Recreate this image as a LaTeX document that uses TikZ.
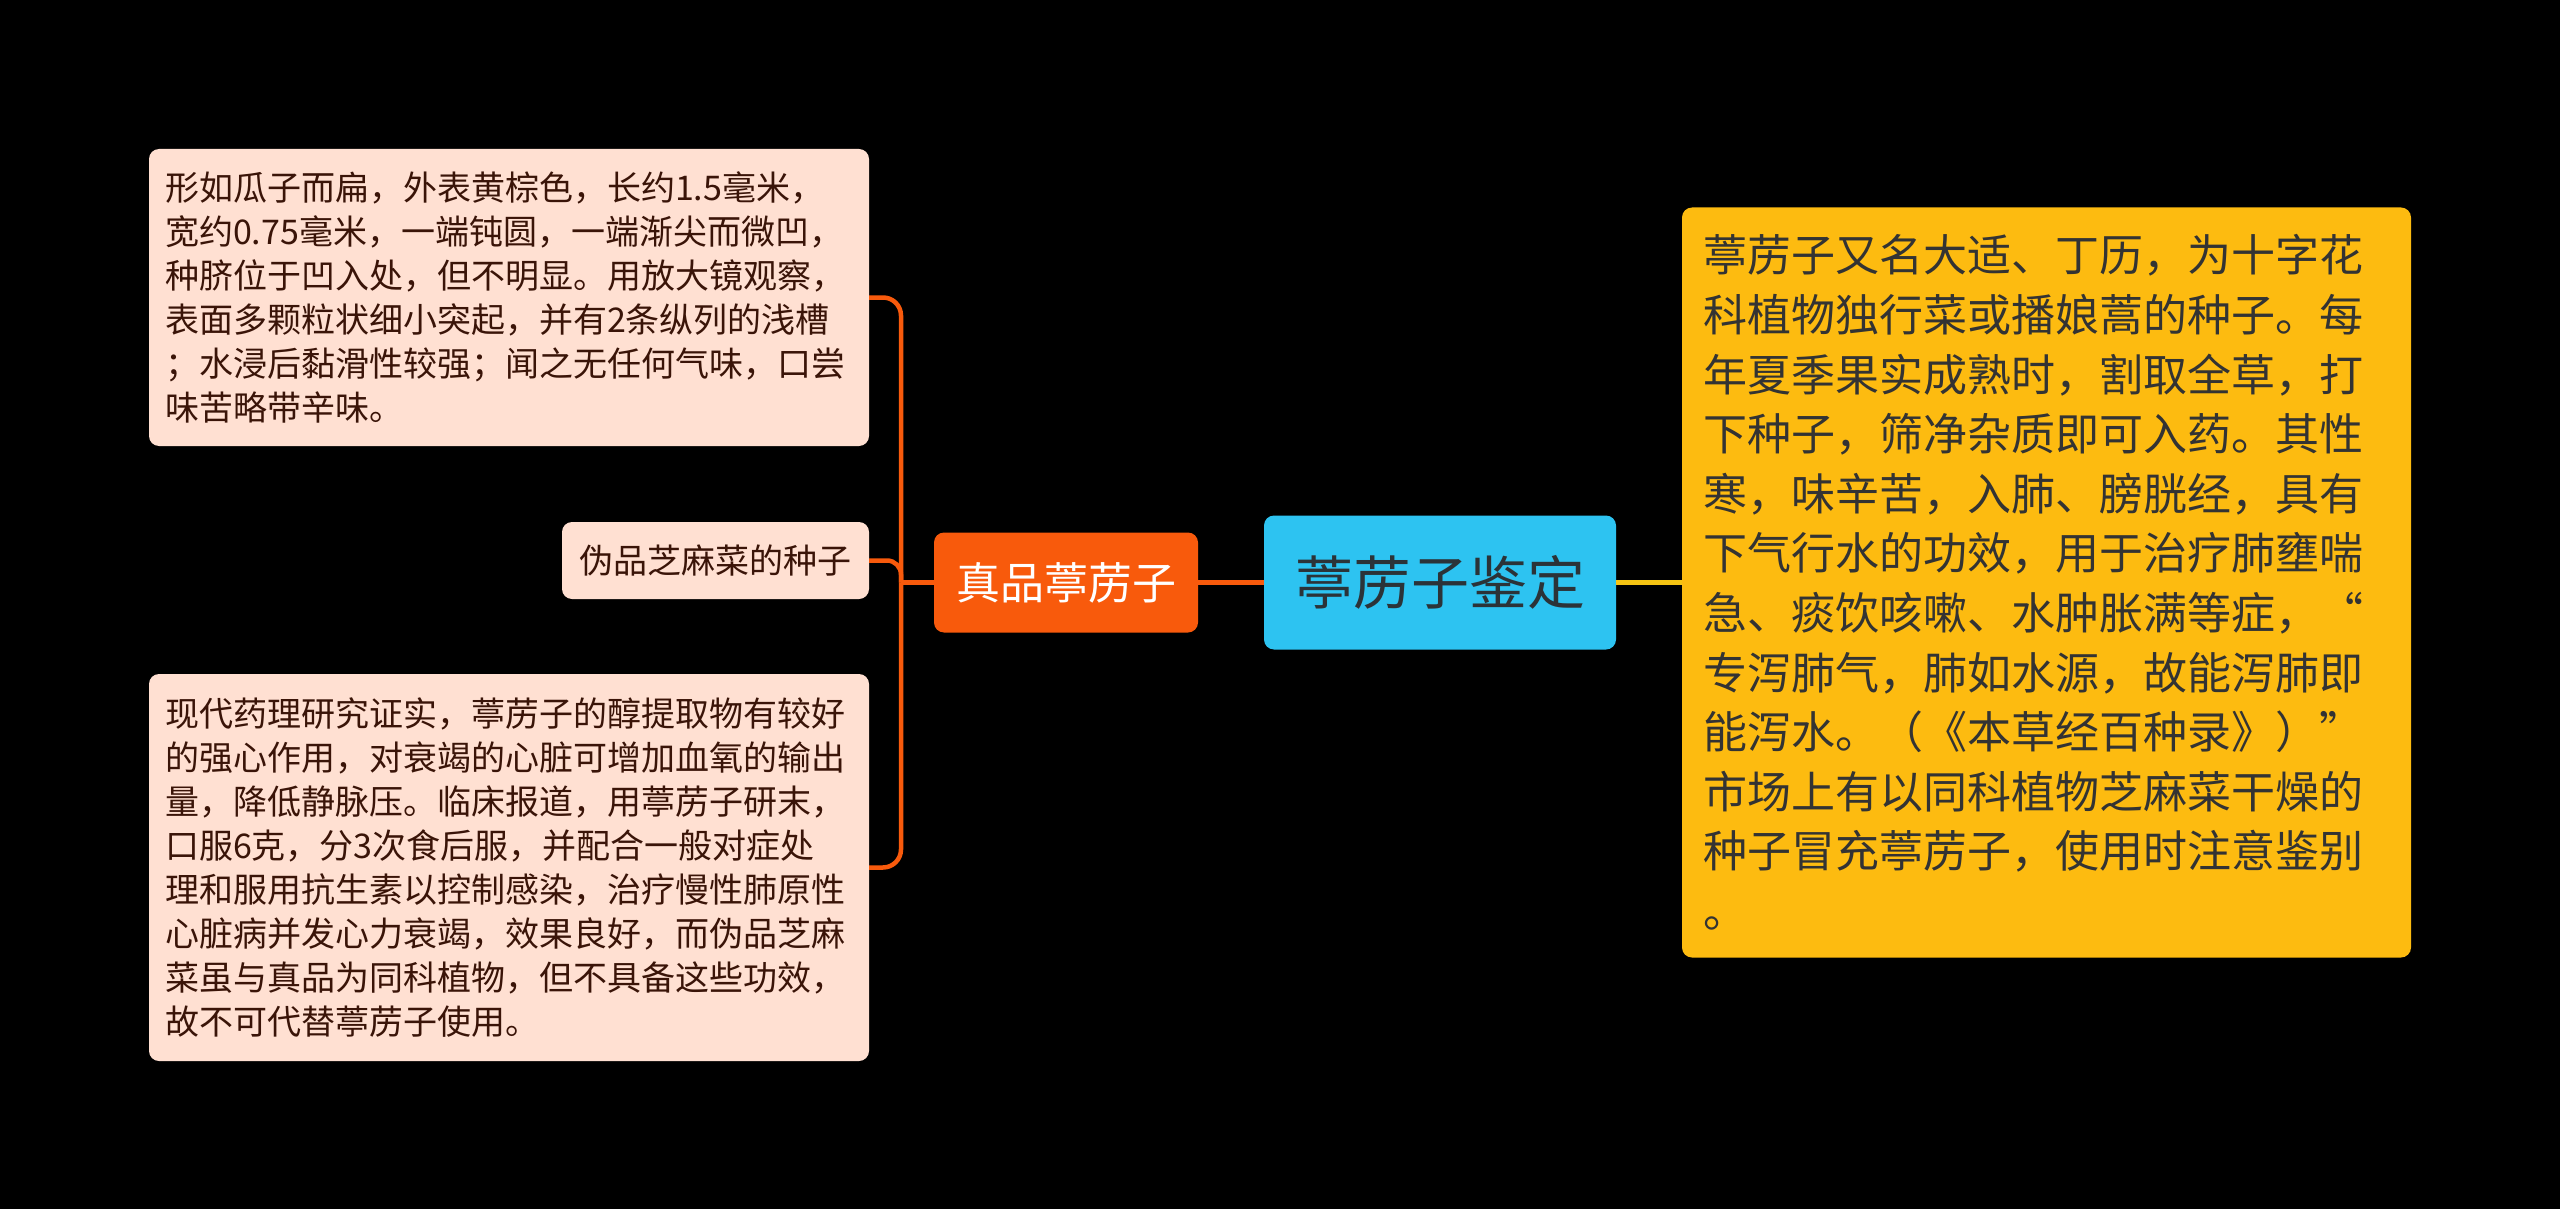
\documentclass[tikz,border=0pt]{standalone}
\usepackage{fontspec}
\setmainfont{Noto Sans CJK SC}
\definecolor{peach}{HTML}{FFE0D2}
\definecolor{leaftext}{HTML}{3A1408}
\definecolor{zhenorange}{HTML}{F85A0C}
\definecolor{rootcyan}{HTML}{2DC3F1}
\definecolor{roottext}{HTML}{2B3338}
\definecolor{amber}{HTML}{FDBB10}
\definecolor{ambertext}{HTML}{333333}
\definecolor{yline}{HTML}{F5C413}
\tikzset{
  leaf/.style={fill=peach, rounded corners=10pt, text=leaftext,
    font=\fontsize{34}{44}\selectfont, align=left, inner xsep=16pt, inner ysep=0pt},
  zhenbox/.style={fill=zhenorange, rounded corners=10pt, text=white,
    font=\fontsize{44}{52}\selectfont, minimum width=264pt, minimum height=100pt, inner sep=0pt},
  rootbox/.style={fill=rootcyan, rounded corners=10pt, text=roottext,
    font=\fontsize{58}{66}\selectfont, minimum width=352pt, minimum height=134pt, inner sep=0pt},
  notebox/.style={fill=amber, rounded corners=10pt, text=ambertext,
    font=\fontsize{44}{59.6}\selectfont, align=left, inner xsep=21pt, inner ysep=0pt},
  oline/.style={draw=zhenorange, line width=4.5pt},
  yellowline/.style={draw=yline, line width=4.5pt}
}
\begin{document}
\begin{tikzpicture}[x=1pt,y=-1pt]
\fill[black] (0,0) rectangle (2560,1209);
\useasboundingbox (0,0) rectangle (2560,1209);

\node[leaf, text width=688pt, minimum height=297pt] (d1) at (509,297.5) {形如瓜子而扁，外表黄棕色，长约1.5毫米，\\宽约0.75毫米，一端钝圆，一端渐尖而微凹，\\种脐位于凹入处，但不明显。用放大镜观察，\\表面多颗粒状细小突起，并有2条纵列的浅槽\\；水浸后黏滑性较强；闻之无任何气味，口尝\\味苦略带辛味。};

\node[leaf, align=center, minimum width=307pt, minimum height=77pt] (d2) at (715.5,560.5) {伪品芝麻菜的种子};

\node[leaf, text width=688pt, minimum height=387pt] (d3) at (509,867.5) {现代药理研究证实，葶苈子的醇提取物有较好\\的强心作用，对衰竭的心脏可增加血氧的输出\\量，降低静脉压。临床报道，用葶苈子研末，\\口服6克，分3次食后服，并配合一般对症处\\理和服用抗生素以控制感染，治疗慢性肺原性\\心脏病并发心力衰竭，效果良好，而伪品芝麻\\菜虽与真品为同科植物，但不具备这些功效，\\故不可代替葶苈子使用。};

\node[zhenbox] (zhen) at (1066,582.5) {真品葶苈子};
\node[rootbox] (root) at (1440,582.5) {葶苈子鉴定};

\node[notebox, text width=687pt, minimum height=750pt] (r1) at (2046.5,582.5) {葶苈子又名大适、丁历，为十字花\\科植物独行菜或播娘蒿的种子。每\\年夏季果实成熟时，割取全草，打\\下种子，筛净杂质即可入药。其性\\寒，味辛苦，入肺、膀胱经，具有\\下气行水的功效，用于治疗肺壅喘\\急、痰饮咳嗽、水肿胀满等症，“\\专泻肺气，肺如水源，故能泻肺即\\能泻水。（《本草经百种录》）”\\市场上有以同科植物芝麻菜干燥的\\种子冒充葶苈子，使用时注意鉴别\\。};

\coordinate (hub) at (901,582.5);
\draw[oline] (root.west) -- (zhen.east);
\draw[oline] (zhen.west) -- (hub);
\draw[oline, rounded corners=18pt] (d1.east) -| (hub);
\draw[oline, rounded corners=14pt] (d2.east) -| (hub);
\draw[oline, rounded corners=18pt] (d3.east) -| (hub);
\draw[yellowline] (root.east) -- (r1.west);
\end{tikzpicture}
\end{document}
